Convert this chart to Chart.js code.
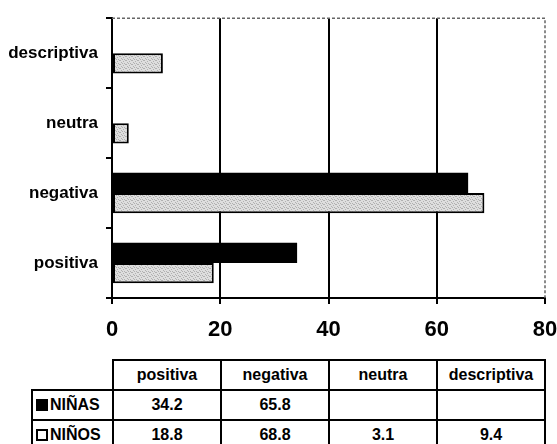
<!DOCTYPE html>
<html>
<head>
<meta charset="utf-8">
<script src="https://cdn.jsdelivr.net/npm/chart.js@4/dist/chart.umd.min.js"></script>
<style>
  body { margin: 0; background: #fff; }
  #wrap { position: relative; width: 557px; height: 444px; overflow: hidden; }
  #chartBox { position: absolute; left: 0; top: 0; width: 557px; height: 350px; }
  table {
    position: absolute; left: 31px; top: 359px; width: 514px;
    border-collapse: collapse; table-layout: fixed;
    font: bold 16px "Liberation Sans", Arial, sans-serif; color: #000;
  }
  td, th { border: 2px solid #000; padding: 0; text-align: center; font-weight: bold; }
  tr { height: 30px; }
  th.blank { border-top: none; border-left: none; }
  td.name { text-align: left; padding-left: 3px; }
  .key { display: inline-block; width: 12px; height: 12px; box-sizing: border-box; margin-right: 2px; vertical-align: -1px; }
  .key.black { background: #000; }
  .key.white { background: #fff; border: 2px solid #000; }
</style>
</head>
<body>
<div id="wrap">
  <div id="chartBox"><canvas id="myChart"></canvas></div>
  <table id="dataTable"></table>
</div>
<script>
// data
const categories = ['positiva', 'negativa', 'neutra', 'descriptiva'];
const ninas = [34.2, 65.8, null, null];
const ninos = [18.8, 68.8, 3.1, 9.4];
const xTicks = [0, 20, 40, 60, 80];
const seriesNames = ['NIÑAS', 'NIÑOS'];

// stippled grey fill like the scanned original
function stipple() {
  const c = document.createElement('canvas');
  c.width = 6;
  c.height = 4;
  const g = c.getContext('2d');
  g.fillStyle = '#dedede';
  g.fillRect(0, 0, 6, 4);
  g.fillStyle = '#b0b0b0';
  [[0, 0], [3, 1], [1, 2], [4, 3], [5, 0], [2, 3]].forEach(([x, y]) => g.fillRect(x, y, 1, 1));
  return g.createPattern(c, 'repeat');
}

// dashed top/right frame
const frame = {
  id: 'frame',
  beforeDatasetsDraw(chart) {
    const {ctx, chartArea: a} = chart;
    ctx.save();
    ctx.strokeStyle = '#666';
    ctx.lineWidth = 1.5;
    ctx.setLineDash([3, 2]);
    ctx.beginPath();
    ctx.moveTo(a.left, a.top);
    ctx.lineTo(a.right, a.top);
    ctx.lineTo(a.right, a.bottom);
    ctx.stroke();
    ctx.restore();
  }
};

// chart shows categories bottom-up
const labels = categories.slice().reverse();

const ctx = document.getElementById('myChart');
new Chart(ctx, {
  type: 'bar',
  data: {
    labels: labels,
    datasets: [{
      label: seriesNames[0],
      data: ninas.slice().reverse(),
      backgroundColor: '#000',
      borderWidth: 0
    }, {
      label: seriesNames[1],
      data: ninos.slice().reverse(),
      backgroundColor: stipple(),
      borderColor: '#000',
      borderWidth: 2,
      borderSkipped: false
    }]
  },
  options: {
    indexAxis: 'y',
    responsive: true,
    maintainAspectRatio: false,
    animation: false,
    datasets: {
      bar: { categoryPercentage: 0.58, barPercentage: 1.0 }
    },
    layout: { padding: { top: 13, right: 12, left: 0, bottom: 0 } },
    plugins: {
      legend: { display: false },
      tooltip: { enabled: false }
    },
    scales: {
      x: {
        min: 0,
        max: 80,
        afterBuildTicks: (s) => { s.ticks = xTicks.map((v) => ({value: v})); },
        afterFit: (s) => {
          s.height = 52;
          s.paddingLeft = 0;
          s.paddingRight = 0;
        },
        border: { display: true, color: '#000', width: 2 },
        grid: {
          color: (c) => (c.tick && c.tick.value === 80 ? 'rgba(0,0,0,0)' : '#000'),
          lineWidth: 2,
          tickColor: '#000',
          tickLength: 6,
          tickWidth: 2
        },
        ticks: {
          color: '#000',
          padding: 13,
          maxRotation: 0,
          font: { family: '"Liberation Sans", Arial, sans-serif', size: 22, weight: 'bold' }
        }
      },
      y: {
        afterFit: (s) => { s.width = 112; },
        border: { display: true, color: '#000', width: 2 },
        grid: {
          drawOnChartArea: false,
          color: '#000',
          lineWidth: 2,
          tickLength: 6
        },
        ticks: {
          color: '#000',
          padding: 8,
          font: { family: '"Liberation Sans", Arial, sans-serif', size: 17, weight: 'bold' }
        }
      }
    }
  },
  plugins: [frame]
});

// data table below the chart
const table = document.getElementById('dataTable');
let html = '<colgroup><col style="width:81px">' +
  categories.map(() => '<col style="width:108px">').join('') + '</colgroup>';
html += '<tr><th class="blank"></th>' + categories.map((c) => `<th>${c}</th>`).join('') + '</tr>';
const rows = [[ninas, 'black'], [ninos, 'white']];
rows.forEach(([vals, key], i) => {
  html += `<tr><td class="name"><span class="key ${key}"></span>${seriesNames[i]}</td>` +
    vals.map((v) => `<td>${v === null ? '' : v}</td>`).join('') + '</tr>';
});
table.innerHTML = html;
</script>
</body>
</html>
